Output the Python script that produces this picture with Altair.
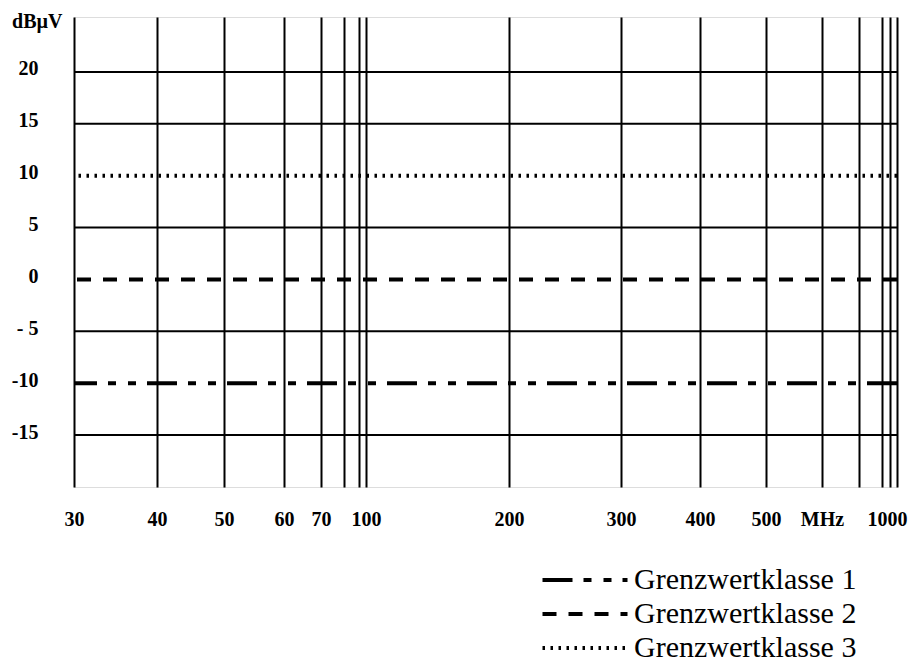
import altair as alt
import pandas as pd

# ---- data ----
x_ticks = [30, 40, 50, 60, 70, 80, 90, 100, 200, 300, 400, 500, 600, 700, 800, 900, 1000]
x_tick_labels = ["30", "40", "50", "60", "70", "", "", "100", "200", "300", "400", "500",
                 "MHz", "", "", "", "1000"]
y_ticks = [-15, -10, -5, 0, 5, 10, 15, 20]
y_tick_labels = ["-15", "-10", "- 5", "0", "5", "10", "15", "20"]
y_grid = [-15, -5, 5, 15, 20]
classes = ["Grenzwertklasse 1", "Grenzwertklasse 2", "Grenzwertklasse 3"]
limits = [-10, 0, 10]

# the hand-drawn frequency axis of the original (not a true log scale)
x_axis_pixels = [0, 83, 150, 210, 247, 270, 285, 292, 435, 547, 626, 692, 748, 785, 808, 816, 823]

W, H = 823, 470
FONT = "Liberation Serif"


def label_expr(values, labels):
    expr = "datum.label"
    for v, l in zip(values, labels):
        expr = f"datum.value == {v} ? '{l}' : ({expr})"
    return expr


x_scale = alt.Scale(type="linear", domain=x_ticks, range=x_axis_pixels, nice=False, zero=False)
y_scale = alt.Scale(domain=[-20, 25.3], nice=False, zero=False)

grid_df = pd.DataFrame({"y": y_grid, "x0": [x_ticks[0]] * len(y_grid), "x1": [x_ticks[-1]] * len(y_grid)})
lim_df = pd.DataFrame({"klasse": classes, "y": limits})

grid = alt.Chart(grid_df).mark_rule(color="black", strokeWidth=2).encode(
    x=alt.X("x0:Q", scale=x_scale,
            axis=alt.Axis(values=x_ticks, grid=True, gridColor="black", gridWidth=2,
                          ticks=False, domain=False, title=None,
                          labelExpr=label_expr(x_ticks, x_tick_labels),
                          labelFont=FONT, labelFontSize=20, labelFontWeight="bold",
                          labelColor="black", labelPadding=22, labelOverlap=False,
                          labelFlush=True, labelFlushOffset=10)),
    x2="x1:Q",
    y=alt.Y("y:Q", scale=y_scale,
            axis=alt.Axis(values=y_ticks, grid=False, ticks=False, domain=False,
                          labelExpr=label_expr(y_ticks, y_tick_labels),
                          labelFont=FONT, labelFontSize=20, labelFontWeight="bold",
                          labelColor="black", labelPadding=36, labelAlign="right",
                          labelBaseline="middle", labelOffset=-3,
                          title="dBµV", titleAngle=0, titleX=-12, titleY=10,
                          titleAlign="right", titleBaseline="alphabetic",
                          titleFont=FONT, titleFontSize=20, titleFontWeight="bold",
                          titleColor="black")),
)

lims = alt.Chart(lim_df).mark_rule(color="black").encode(
    y=alt.Y("y:Q", scale=y_scale),
    strokeDash=alt.StrokeDash(
        "klasse:N",
        scale=alt.Scale(domain=classes, range=[[30, 11, 8, 12, 8, 11], [14, 12], [2.5, 5.5]]),
        legend=alt.Legend(title=None, orient="none", legendX=492, legendY=544,
                          symbolType="M-2.5,0H2.5", symbolSize=1156, symbolStrokeWidth=3.5,
                          symbolStrokeColor="black",
                          labelFont=FONT, labelFontSize=30, labelColor="black",
                          labelLimit=500, labelOffset=30, rowPadding=-1, padding=0),
    ),
    strokeWidth=alt.StrokeWidth("klasse:N",
                                scale=alt.Scale(domain=classes, range=[4, 4, 3]),
                                legend=None),
)

chart = alt.layer(grid, lims).properties(
    width=W, height=H,
    autosize=alt.AutoSizeParams(type="none"),
    padding={"left": 66, "top": 9, "right": 14, "bottom": 177},
).configure_view(stroke="black", strokeWidth=2).configure(background="white")

chart.save("out.html", embed_options={"renderer": "svg", "actions": False})
